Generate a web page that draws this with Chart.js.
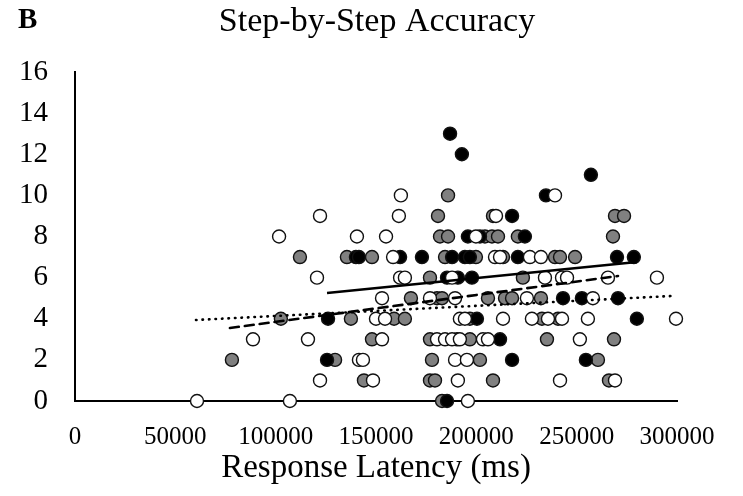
<!DOCTYPE html>
<html>
<head>
  <script src="https://cdnjs.cloudflare.com/ajax/libs/Chart.js/4.4.1/chart.umd.min.js"></script>
  <style>
    body {
      margin: 0;
      background: white;
    }
  </style>
</head>
<body>
  <canvas id="accChart" width="743" height="496"></canvas>

  <script>
    // accuracy (steps correct) vs response latency, three groups
    const blackLatency = [186900, 192800, 257100, 234700, 217800, 195800, 201800, 224200,
      140000, 141500, 162000, 172900, 187900, 194300, 196800, 220700, 270100, 278500,
      185400, 190800, 197800, 243200, 252600, 270600, 126100, 200300, 280000,
      190400, 211800, 125600, 217800, 254600, 185400];
    const blackAccuracy = [13, 12, 11, 10, 9, 8, 8, 8,
      7, 7, 7, 7, 7, 7, 7, 7, 7, 7,
      6, 6, 6, 5, 5, 5, 4, 4, 4,
      3, 3, 2, 2, 2, 0];

    const grayLatency = [185900, 180900, 208300, 269100, 273600,
      181900, 185900, 204300, 207800, 210800, 220700, 268100,
      112100, 135500, 148000, 184400, 199800, 213300, 239200, 241700, 249200,
      176900, 223200,
      167400, 180400, 182900, 205800, 214300, 217800, 232200,
      102600, 137500, 159000, 164400, 196800, 232700, 240700,
      148000, 176900, 196800, 235200, 268600,
      78200, 129600, 177900, 201800, 260600,
      144000, 176900, 179400, 208300, 266100,
      182900];
    const grayAccuracy = [10, 9, 9, 9, 9,
      8, 8, 8, 8, 8, 8, 8,
      7, 7, 7, 7, 7, 7, 7, 7, 7,
      6, 6,
      5, 5, 5, 5, 5, 5, 5,
      4, 4, 4, 4, 4, 4, 4,
      3, 3, 3, 3, 3,
      2, 2, 2, 2, 2,
      1, 1, 1, 1, 1,
      0];

    const whiteLatency = [162400, 239200,
      122100, 161400, 209800,
      101700, 140500, 155000, 199800,
      158500, 209300, 211800, 226700, 232200,
      120600, 162000, 164400, 187900, 234200, 242700, 245200, 265600, 290000,
      153000, 176900, 189400, 225200, 258100,
      150000, 154500, 191800, 194300, 213300, 227700, 235700, 242700, 255600, 299500,
      88700, 116100, 153000, 180400, 184400, 187900, 191800, 203300, 205800, 251600,
      141500, 143500, 189400, 195300,
      122100, 148500, 190800, 241700, 269100,
      60800, 107100, 195800];
    const whiteAccuracy = [10, 10,
      9, 9, 9,
      8, 8, 8, 8,
      7, 7, 7, 7, 7,
      6, 6, 6, 6, 6, 6, 6, 6, 6,
      5, 5, 5, 5, 5,
      4, 4, 4, 4, 4, 4, 4, 4, 4, 4,
      3, 3, 3, 3, 3, 3, 3, 3, 3, 3,
      2, 2, 2, 2,
      1, 1, 1, 1, 1,
      0, 0, 0];

    // linear trend line end points
    const blackTrend = [[125600, 5.25], [280000, 6.76]];
    const grayTrend = [[77200, 3.55], [270600, 6.08]];
    const whiteTrend = [[60300, 3.94], [298000, 5.11]];

    const yTicks = [0, 2, 4, 6, 8, 10, 12, 14, 16];
    const xTicks = [0, 50000, 100000, 150000, 200000, 250000, 300000];

    const serif = '"Liberation Serif", "Times New Roman", serif';

    function toPoints(xs, ys) {
      return xs.map((x, i) => ({x: x, y: ys[i]}));
    }

    function pointSet(xs, ys, fill, order) {
      return {
        data: toPoints(xs, ys),
        backgroundColor: fill,
        borderColor: '#111',
        borderWidth: 1.4,
        pointRadius: 6.5,
        pointHoverRadius: 6.5,
        clip: false,
        order: order
      };
    }

    function trendSet(pts, dash) {
      return {
        type: 'line',
        data: pts.map(p => ({x: p[0], y: p[1]})),
        borderColor: '#000',
        borderWidth: 2.6,
        borderDash: dash,
        borderCapStyle: dash.length ? 'round' : 'butt',
        pointRadius: 0,
        fill: false,
        clip: false,
        order: 0
      };
    }

    const headerText = {
      id: 'headerText',
      afterDraw(chart) {
        const ctx = chart.ctx;
        ctx.save();
        ctx.fillStyle = '#000';
        ctx.textBaseline = 'middle';
        ctx.textAlign = 'left';
        ctx.font = 'bold 29px ' + serif;
        ctx.fillText('B', 18, 21);
        ctx.textAlign = 'center';
        ctx.font = '34px ' + serif;
        ctx.fillText('Step-by-Step Accuracy', 377, 22);
        ctx.restore();
      }
    };

    const ctx = document.getElementById('accChart').getContext('2d');
    new Chart(ctx, {
      type: 'scatter',
      data: {
        datasets: [
          trendSet(blackTrend, []),
          trendSet(grayTrend, [9, 6]),
          trendSet(whiteTrend, [0.5, 6]),
          pointSet(whiteLatency, whiteAccuracy, '#ffffff', 1),
          pointSet(blackLatency, blackAccuracy, '#000000', 2),
          pointSet(grayLatency, grayAccuracy, '#808080', 3)
        ]
      },
      options: {
        responsive: false,
        animation: false,
        layout: {
          padding: {top: 72, right: 66, bottom: 0, left: 0}
        },
        scales: {
          x: {
            type: 'linear',
            min: 0,
            max: 300000,
            afterBuildTicks: (scale) => { scale.ticks = xTicks.map(v => ({value: v})); },
            afterFit: (scale) => { scale.height = 95; },
            grid: {display: false, drawTicks: false},
            border: {display: true, color: '#000', width: 2},
            ticks: {
              color: '#000',
              padding: 21,
              maxRotation: 0,
              autoSkip: false,
              font: {family: serif, size: 25},
              callback: (v) => String(v)
            },
            title: {
              display: true,
              text: 'Response Latency (ms)',
              color: '#000',
              font: {family: serif, size: 33},
              padding: {top: 0, bottom: 8}
            }
          },
          y: {
            type: 'linear',
            min: 0,
            max: 16,
            afterBuildTicks: (scale) => { scale.ticks = yTicks.map(v => ({value: v})); },
            afterFit: (scale) => { scale.width = 75; },
            grid: {display: false, drawTicks: false},
            border: {display: true, color: '#000', width: 2},
            ticks: {
              color: '#000',
              padding: 27,
              font: {family: serif, size: 29}
            }
          }
        },
        plugins: {
          legend: {display: false},
          tooltip: {enabled: false},
          title: {display: false}
        }
      },
      plugins: [headerText]
    });
  </script>
</body>
</html>
